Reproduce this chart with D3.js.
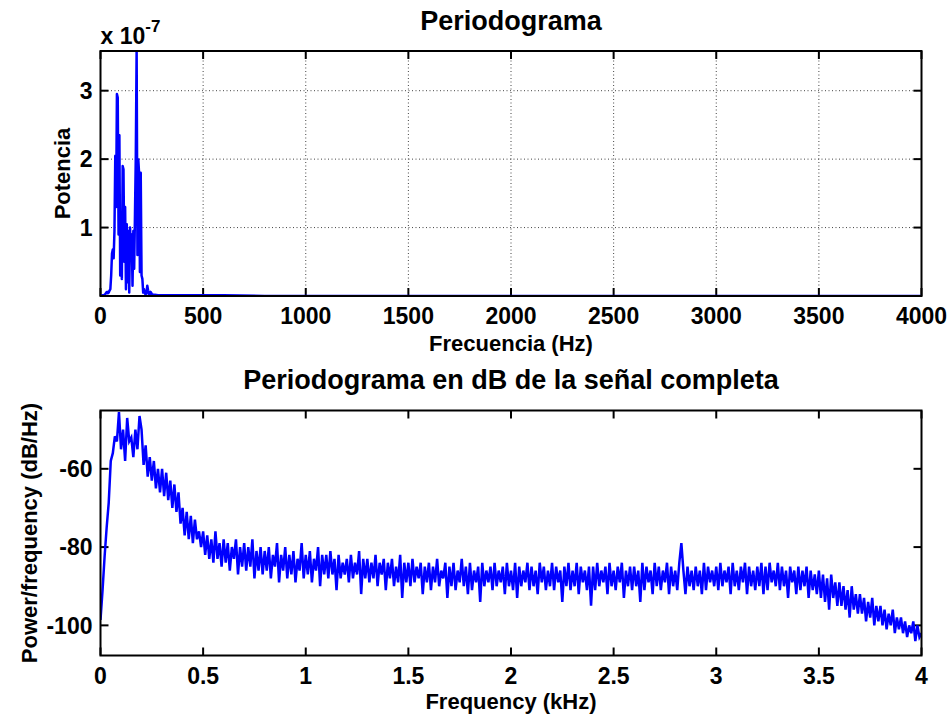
<!DOCTYPE html>
<html>
<head>
<meta charset="utf-8">
<script src="https://d3js.org/d3.v7.min.js"></script>
<style>
  body { margin: 0; background: #fff; }
  text { font-family: "Liberation Sans", Arial, Helvetica, sans-serif; font-weight: bold; fill: #000; }
</style>
</head>
<body>
<script>
// top panel: periodogram (power, x 1e-7) sampled every 4 Hz up to 264 Hz, then a flat tail
var topFreq = [0,4,8,12,16,20,24,28,32,36,40,44,48,52,56,60,64,68,72,76,80,84,88,92,96,100,104,108,112,116,
  120,124,128,132,136,140,144,148,152,156,160,164,168,172,176,180,184,188,192,196,200,204,208,212,216,220,224,228,
  232,236,240,244,248,252,256,260,264,280,300,350,400,500,600,800,1000,1500,2000,2500,3000,3500,4000];
var topPow = [0.00,0.00,0.01,0.01,0.01,0.02,0.03,0.05,0.06,0.04,0.05,0.08,0.10,0.30,0.62,0.68,0.55,0.95,2.05,1.30,
  2.95,2.90,0.90,2.35,0.30,1.10,0.25,1.90,1.85,0.50,1.30,0.10,1.05,0.20,0.95,0.05,1.00,0.60,0.90,0.15,
  0.95,0.40,1.20,2.05,3.60,0.60,2.00,1.80,0.35,1.80,0.30,0.25,0.05,0.10,0.04,0.02,0.05,0.15,0.08,0.02,
  0.01,0.06,0.04,0.01,0.02,0.01,0.02,0.01,0.01,0.01,0.01,0.01,0.01,0.00,0.00,0.00,0.00,0.00,0.00,0.00,0.00];
var topXTicks = [0,500,1000,1500,2000,2500,3000,3500,4000];
var topYTicks = [1,2,3];

// bottom panel: PSD in dB/Hz, one value every 10 Hz from 0 to 4 kHz
var botStep = 0.01;
var botDb = [
  -98.6,-91,-82.4,-75,-68.7,-58,-56,-51.7,-53,-45.5,
  -55,-50,-58,-47,-53,-52,-57,-50,-55,-46.5,
  -50,-59,-54,-62,-57,-63,-58,-65,-60,-66,
  -60,-67,-61,-68,-63,-70,-64,-71,-66,-74,
  -70,-77,-71,-78,-72,-79,-73,-78,-76,-80,
  -76,-82,-77,-83,-78,-84,-76,-83,-79,-85,
  -78,-84,-79,-86,-80,-83,-78,-87,-80,-85,
  -79,-86,-80,-85,-78,-88,-81,-86,-80,-87,
  -81,-86,-80,-88,-82,-85,-79,-89,-82,-86,
  -80,-88,-82,-87,-81,-89,-83,-86,-79,-88,
  -82,-87,-81,-89,-83,-86,-80,-90,-82,-87,
  -82,-88,-81,-87,-83,-91,-82,-88,-84,-87,
  -83,-89,-82,-88,-84,-87,-81,-92,-83,-88,
  -83,-89,-84,-88,-82,-90,-84,-87,-83,-91,
  -84,-88,-83,-90,-85,-89,-82,-93,-84,-89,
  -84,-90,-83,-89,-85,-88,-84,-92,-85,-89,
  -84,-91,-85,-89,-83,-90,-86,-88,-84,-93,
  -85,-90,-84,-91,-86,-89,-83,-90,-85,-92,
  -84,-91,-86,-89,-85,-94,-84,-90,-86,-89,
  -85,-91,-84,-90,-86,-89,-85,-92,-84,-90,
  -86,-91,-84,-93,-85,-90,-86,-89,-84,-91,
  -85,-90,-86,-92,-84,-89,-85,-91,-86,-90,
  -84,-91,-85,-89,-86,-94,-85,-90,-84,-91,
  -86,-90,-84,-92,-85,-89,-86,-91,-85,-95,
  -85,-91,-84,-90,-86,-89,-85,-92,-84,-90,
  -86,-91,-85,-89,-84,-93,-86,-90,-85,-91,
  -85,-90,-86,-94,-84,-91,-85,-89,-86,-92,
  -84,-90,-85,-91,-86,-89,-84,-92,-85,-90,
  -86,-91,-84,-79,-86,-92,-85,-90,-86,-91,
  -85,-90,-86,-92,-84,-91,-85,-89,-86,-90,
  -85,-91,-84,-90,-86,-89,-85,-92,-84,-90,
  -86,-91,-85,-89,-84,-92,-85,-90,-86,-91,
  -85,-90,-84,-92,-85,-91,-84,-89,-86,-90,
  -84,-91,-85,-90,-86,-93,-85,-89,-86,-92,
  -85,-91,-86,-90,-85,-93,-86,-91,-87,-92,
  -86,-93,-87,-94,-88,-96,-87,-93,-89,-95,
  -89,-95,-90,-96,-91,-98,-90,-96,-92,-97,
  -92,-97,-93,-99,-94,-98,-93,-100,-95,-99,
  -95,-100,-96,-101,-97,-100,-96,-102,-98,-101,
  -98,-102,-99,-103,-100,-102,-99,-104,-100,-103,
  -102];
var botXTicks = [0,0.5,1,1.5,2,2.5,3,3.5,4];
var botYTicks = [-100,-80,-60];

var W = 952, H = 715;
var svg = d3.select("body").append("svg").attr("width", W).attr("height", H);

var left = 100.5, right = 921.5, tickLen = 8;

// draws inward ticks on all four sides, tick labels and an optional dotted grid
function drawFrame(g, sx, sy, xticks, yticks, grid, xfmt) {
  var y0 = sy.range()[0], y1 = sy.range()[1];
  if (grid) {
    g.selectAll("line.gx").data(xticks.slice(1, -1)).enter().append("line").attr("class", "gx")
      .attr("x1", sx).attr("x2", sx).attr("y1", y0).attr("y2", y1)
      .attr("stroke", "#444").attr("stroke-width", 1).attr("stroke-dasharray", "1,2.5");
    g.selectAll("line.gy").data(yticks).enter().append("line").attr("class", "gy")
      .attr("x1", left).attr("x2", right).attr("y1", sy).attr("y2", sy)
      .attr("stroke", "#444").attr("stroke-width", 1).attr("stroke-dasharray", "1,2.5");
  }
  var ax = g.append("g");
  xticks.forEach(function(t) {
    ax.append("line").attr("x1", sx(t)).attr("x2", sx(t)).attr("y1", y0).attr("y2", y0 - tickLen);
    ax.append("line").attr("x1", sx(t)).attr("x2", sx(t)).attr("y1", y1).attr("y2", y1 + tickLen);
  });
  yticks.forEach(function(t) {
    ax.append("line").attr("x1", left).attr("x2", left + tickLen).attr("y1", sy(t)).attr("y2", sy(t));
    ax.append("line").attr("x1", right).attr("x2", right - tickLen).attr("y1", sy(t)).attr("y2", sy(t));
  });
  ax.selectAll("line").attr("stroke", "#000").attr("stroke-width", 2);
  g.selectAll("text.xt").data(xticks).enter().append("text").attr("class", "xt")
    .attr("x", sx).attr("y", y0 + 28).attr("text-anchor", "middle").style("font-size", "23px")
    .text(xfmt);
  g.selectAll("text.yt").data(yticks).enter().append("text").attr("class", "yt")
    .attr("x", left - 8).attr("y", sy).attr("dy", "0.36em").attr("text-anchor", "end").style("font-size", "23px")
    .text(function(d) { return d; });
}

function drawBox(g, sy) {
  g.append("rect").attr("x", left).attr("y", sy.range()[1])
    .attr("width", right - left).attr("height", sy.range()[0] - sy.range()[1])
    .attr("fill", "none").attr("stroke", "#000").attr("stroke-width", 2);
}

// ---- top panel ----
var gTop = svg.append("g");
var sxTop = d3.scaleLinear().domain([0, 4000]).range([left, right]);
var syTop = d3.scaleLinear().domain([0, 3.58]).range([296, 51]);

drawFrame(gTop, sxTop, syTop, topXTicks, topYTicks, true, function(d) { return d; });

svg.append("clipPath").attr("id", "clipTop").append("rect")
  .attr("x", left).attr("y", 50).attr("width", right - left).attr("height", 247);
gTop.append("path").datum(topFreq.map(function(f, i) { return [f, topPow[i]]; }))
  .attr("clip-path", "url(#clipTop)")
  .attr("d", d3.line().x(function(d) { return sxTop(d[0]); }).y(function(d) { return syTop(d[1]); }))
  .attr("fill", "none").attr("stroke", "#0000ff").attr("stroke-width", 2.5).attr("stroke-linejoin", "round");
drawBox(gTop, syTop);

gTop.append("text").attr("x", (left + right) / 2).attr("y", 30).attr("text-anchor", "middle")
  .style("font-size", "27px").text("Periodograma");
var exp = gTop.append("text").attr("x", left).attr("y", 44).style("font-size", "23px");
exp.append("tspan").text("x 10");
exp.append("tspan").attr("dy", -12).style("font-size", "17px").text("-7");
gTop.append("text").attr("transform", "translate(70," + (51 + 296) / 2 + ") rotate(-90)")
  .attr("text-anchor", "middle").style("font-size", "22px").text("Potencia");
gTop.append("text").attr("x", (left + right) / 2).attr("y", 351).attr("text-anchor", "middle")
  .style("font-size", "22px").text("Frecuencia (Hz)");

// ---- bottom panel ----
var gBot = svg.append("g");
var sxBot = d3.scaleLinear().domain([0, 4]).range([left, right]);
var syBot = d3.scaleLinear().domain([-107.7, -45.1]).range([655.5, 410.5]);

drawFrame(gBot, sxBot, syBot, botXTicks, botYTicks, false, function(d) { return d; });

svg.append("clipPath").attr("id", "clipBot").append("rect")
  .attr("x", left).attr("y", 410).attr("width", right - left).attr("height", 246);
gBot.append("path").datum(botDb)
  .attr("clip-path", "url(#clipBot)")
  .attr("d", d3.line().x(function(d, i) { return sxBot(i * botStep); }).y(function(d) { return syBot(d); }))
  .attr("fill", "none").attr("stroke", "#0000ff").attr("stroke-width", 2.5).attr("stroke-linejoin", "miter");
drawBox(gBot, syBot);

gBot.append("text").attr("x", (left + right) / 2).attr("y", 389).attr("text-anchor", "middle")
  .style("font-size", "27px").text("Periodograma en dB de la señal completa");
gBot.append("text").attr("transform", "translate(37," + (410.5 + 655.5) / 2 + ") rotate(-90)")
  .attr("text-anchor", "middle").style("font-size", "22px").text("Power/frequency (dB/Hz)");
gBot.append("text").attr("x", (left + right) / 2).attr("y", 709).attr("text-anchor", "middle")
  .style("font-size", "22px").text("Frequency (kHz)");
</script>
</body>
</html>
